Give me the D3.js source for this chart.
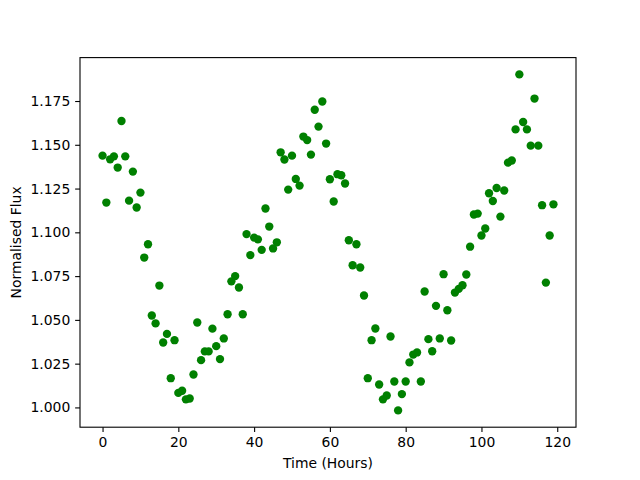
<!DOCTYPE html>
<html>
<head>
<meta charset="utf-8">
<script src="https://cdn.jsdelivr.net/npm/d3@7"></script>
<style>
  body { margin: 0; background: #fff; }
  text { font-family: "DejaVu Sans", sans-serif; }
</style>
</head>
<body>
<div id="chart"></div>
<script>
// hourly samples
const hours = d3.range(0, 120);
const flux = [
  1.1438, 1.117, 1.1417, 1.1434, 1.137, 1.1636, 1.1434, 1.1181, 1.1347, 1.1142,
  1.1227, 1.0856, 1.0932, 1.0525, 1.048, 1.0696, 1.0371, 1.042, 1.0167, 1.0384,
  1.0083, 1.0095, 1.0046, 1.0051, 1.0188, 1.0485, 1.027, 1.032, 1.032, 1.045,
  1.035, 1.0276, 1.0394, 1.0532, 1.072, 1.075, 1.0685, 1.0532, 1.099, 1.087,
  1.097, 1.096, 1.090, 1.1136, 1.1033, 1.0908, 1.0943, 1.1457, 1.1416, 1.1244,
  1.1438, 1.1305, 1.1267, 1.1547, 1.1527, 1.1444, 1.170, 1.1604, 1.1747, 1.1507,
  1.1303, 1.1176, 1.1332, 1.1326, 1.1279, 1.0955, 1.0812, 1.0932, 1.0799, 1.0639,
  1.0167, 1.0384, 1.0451, 1.0131, 1.0046, 1.0068, 1.0405, 1.0148, 0.9983, 1.0076,
  1.0148, 1.0257, 1.0302, 1.0314, 1.0148, 1.0662, 1.039, 1.0321, 1.058, 1.0394,
  1.0761, 1.0555, 1.0382, 1.0656, 1.0677, 1.0698, 1.0759, 1.0918, 1.1102, 1.1107,
  1.0982, 1.1022, 1.1223, 1.1179, 1.1253, 1.109, 1.1239, 1.1398, 1.141, 1.1588,
  1.1902, 1.163, 1.1588, 1.1495, 1.1764, 1.1495, 1.1155, 1.0713, 1.0982, 1.116
];
const xTicks = [0, 20, 40, 60, 80, 100, 120];
const yTicks = [1.000, 1.025, 1.050, 1.075, 1.100, 1.125, 1.150, 1.175];

const points = hours.map((h, i) => ({ t: h, f: flux[i] }));

const width = 640, height = 480;
const plotLeft = 80, plotRight = 576, plotTop = 57.6, plotBottom = 427.2;
const fontSize = 13.9;

const svg = d3.select("#chart").append("svg")
  .attr("width", width)
  .attr("height", height);

// matplotlib style 5% margins
const xExt = d3.extent(hours), yExt = d3.extent(flux);
const xPad = (xExt[1] - xExt[0]) * 0.05, yPad = (yExt[1] - yExt[0]) * 0.05;

const x = d3.scaleLinear()
  .domain([xExt[0] - xPad, xExt[1] + xPad])
  .range([plotLeft, plotRight]);
const y = d3.scaleLinear()
  .domain([yExt[0] - yPad, yExt[1] + yPad])
  .range([plotBottom, plotTop]);

/* points */
svg.append("g")
  .selectAll("circle")
  .data(points).enter()
  .append("circle")
  .attr("cx", d => x(d.t))
  .attr("cy", d => y(d.f))
  .attr("r", 4.17)
  .style("fill", "#008000");

/* axes */
const xAxis = d3.axisBottom(x).tickValues(xTicks).tickSize(4.86).tickPadding(4.86).tickFormat(d3.format("d"));
const yAxis = d3.axisLeft(y).tickValues(yTicks).tickSize(4.86).tickPadding(4.86).tickFormat(d3.format(".3f"));

const gx = svg.append("g")
  .attr("transform", `translate(0, ${plotBottom})`)
  .call(xAxis);
const gy = svg.append("g")
  .attr("transform", `translate(${plotLeft}, 0)`)
  .call(yAxis);

[gx, gy].forEach(g => {
  g.select(".domain").remove();
  g.selectAll("line").attr("stroke", "#000").attr("stroke-width", 1.1);
  g.selectAll("text")
    .attr("fill", "#000")
    .style("font-size", fontSize + "px")
    .style("font-family", "'DejaVu Sans', sans-serif");
});

/* frame */
svg.append("rect")
  .attr("x", plotLeft)
  .attr("y", plotTop)
  .attr("width", plotRight - plotLeft)
  .attr("height", plotBottom - plotTop)
  .attr("fill", "none")
  .attr("stroke", "#000")
  .attr("stroke-width", 1.1);

/* axis labels */
svg.append("text")
  .attr("x", (plotLeft + plotRight) / 2)
  .attr("y", 468)
  .attr("text-anchor", "middle")
  .style("font-size", fontSize + "px")
  .text("Time (Hours)");

svg.append("text")
  .attr("transform", `translate(21, ${(plotTop + plotBottom) / 2}) rotate(-90)`)
  .attr("text-anchor", "middle")
  .style("font-size", fontSize + "px")
  .text("Normalised Flux");
</script>
</body>
</html>
